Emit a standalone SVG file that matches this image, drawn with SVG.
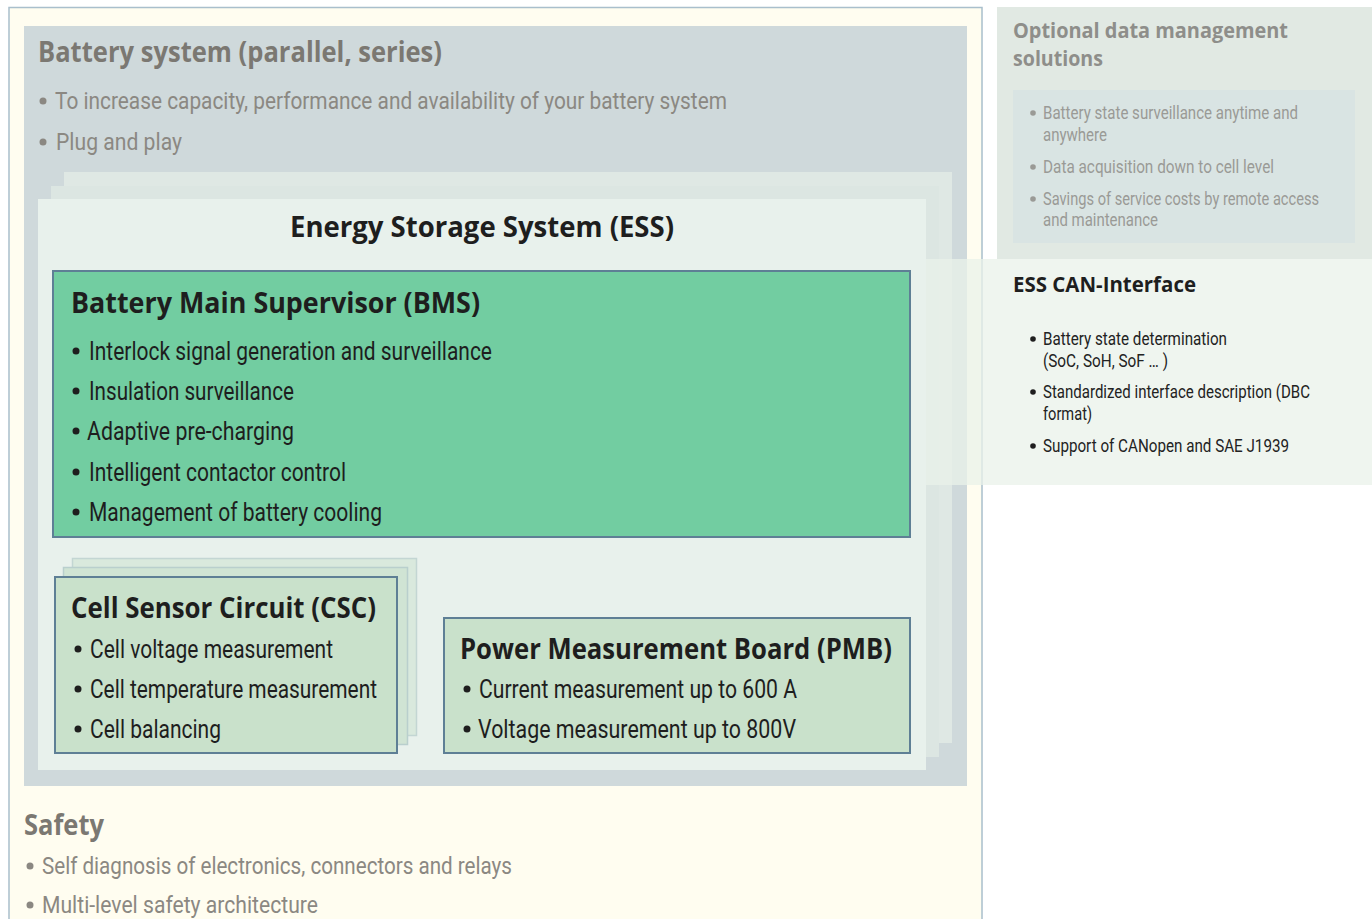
<svg xmlns="http://www.w3.org/2000/svg" width="1372" height="919" viewBox="0 0 1372 919">
<style>
.t-grey-h{font-family:"Open Sans","Noto Sans",sans-serif;font-weight:bold;font-size:29px;fill:#7b7872}
.t-grey{font-family:Roboto,"Liberation Sans",sans-serif;font-size:24px;fill:#8b8882}
.t-dark-h{font-family:"Open Sans","Noto Sans",sans-serif;font-weight:bold;font-size:29px;fill:#1e1e1e}
.t-dark{font-family:Roboto,"Liberation Sans",sans-serif;font-size:25px;fill:#1e1e1e}
.r-grey-h{font-family:"Open Sans","Noto Sans",sans-serif;font-weight:bold;font-size:22px;fill:#8e8e8a}
.r-grey{font-family:Roboto,"Liberation Sans",sans-serif;font-size:17.5px;fill:#9a9a96}
.r-dark-h{font-family:"Open Sans","Noto Sans",sans-serif;font-weight:bold;font-size:21px;fill:#1e1e1e}
.r-dark{font-family:Roboto,"Liberation Sans",sans-serif;font-size:17.5px;fill:#222}
.dot-grey{fill:#8b8882}
.dot-dark{fill:#1e1e1e}
.dot-rgrey{fill:#9a9a96}
.box{stroke:#5e7f95;stroke-width:2}
</style>
<rect x="0" y="0" width="1372" height="919" fill="#ffffff"/>

<!-- outer yellow panel -->
<g id="outer-panel">
<rect x="9" y="7.5" width="973" height="930" fill="#fffdf0" stroke="#a9bfcc" stroke-width="1.5"/>
</g>

<!-- battery system -->
<g id="battery-system">
<rect x="24" y="26" width="943" height="760" fill="#cfd9db"/>
<text class="t-grey-h" x="38" y="62" textLength="404" lengthAdjust="spacingAndGlyphs">Battery system (parallel, series)</text>
<circle class="dot-grey" cx="43" cy="101" r="3.5"/>
<text class="t-grey" x="55" y="109" textLength="672" lengthAdjust="spacingAndGlyphs">To increase capacity, performance and availability of your battery system</text>
<circle class="dot-grey" cx="43" cy="142" r="3.5"/>
<text class="t-grey" x="56" y="150" textLength="126" lengthAdjust="spacingAndGlyphs">Plug and play</text>
</g>

<!-- ESS stack -->
<g id="ess">
<rect x="64" y="172" width="888" height="571" fill="#dfe8e4"/>
<rect x="51" y="186" width="888" height="571" fill="#dce6e2"/>
<rect x="38" y="199" width="888" height="571" fill="#e8f1ec"/>
<text class="t-dark-h" x="290" y="237" textLength="384" lengthAdjust="spacingAndGlyphs">Energy Storage System (ESS)</text>
</g>

<!-- BMS -->
<g id="bms">
<rect class="box" x="53" y="271" width="857" height="266" fill="#72cda1"/>
<text class="t-dark-h" x="71" y="313" textLength="409" lengthAdjust="spacingAndGlyphs">Battery Main Supervisor (BMS)</text>
<circle class="dot-dark" cx="76" cy="351" r="3.5"/>
<text class="t-dark" x="89" y="360" textLength="403" lengthAdjust="spacingAndGlyphs">Interlock signal generation and surveillance</text>
<circle class="dot-dark" cx="76" cy="391" r="3.5"/>
<text class="t-dark" x="89" y="400" textLength="205" lengthAdjust="spacingAndGlyphs">Insulation surveillance</text>
<circle class="dot-dark" cx="76" cy="431" r="3.5"/>
<text class="t-dark" x="87" y="440" textLength="207" lengthAdjust="spacingAndGlyphs">Adaptive pre-charging</text>
<circle class="dot-dark" cx="76" cy="472" r="3.5"/>
<text class="t-dark" x="89" y="481" textLength="257" lengthAdjust="spacingAndGlyphs">Intelligent contactor control</text>
<circle class="dot-dark" cx="76" cy="512" r="3.5"/>
<text class="t-dark" x="89" y="521" textLength="293" lengthAdjust="spacingAndGlyphs">Management of battery cooling</text>
</g>

<!-- CSC stack -->
<g id="csc">
<rect x="72.5" y="558.5" width="344" height="177" fill="#d9e9dd" stroke="#c3d6d3" stroke-width="1.5"/>
<rect x="63.5" y="567.5" width="344" height="177" fill="#d0e4d4" stroke="#b9cfcd" stroke-width="1.5"/>
<rect class="box" x="55" y="577" width="342" height="176" fill="#c9e1cb"/>
<text class="t-dark-h" x="71" y="618" textLength="305" lengthAdjust="spacingAndGlyphs">Cell Sensor Circuit (CSC)</text>
<circle class="dot-dark" cx="78" cy="649" r="3.5"/>
<text class="t-dark" x="90" y="658" textLength="243" lengthAdjust="spacingAndGlyphs">Cell voltage measurement</text>
<circle class="dot-dark" cx="78" cy="689" r="3.5"/>
<text class="t-dark" x="90" y="698" textLength="287" lengthAdjust="spacingAndGlyphs">Cell temperature measurement</text>
<circle class="dot-dark" cx="78" cy="729" r="3.5"/>
<text class="t-dark" x="90" y="738" textLength="131" lengthAdjust="spacingAndGlyphs">Cell balancing</text>
</g>

<!-- PMB -->
<g id="pmb">
<rect class="box" x="444" y="618" width="466" height="135" fill="#c9e1cb"/>
<text class="t-dark-h" x="460" y="659" textLength="432" lengthAdjust="spacingAndGlyphs">Power Measurement Board (PMB)</text>
<circle class="dot-dark" cx="467" cy="689" r="3.5"/>
<text class="t-dark" x="479" y="698" textLength="318" lengthAdjust="spacingAndGlyphs">Current measurement up to 600 A</text>
<circle class="dot-dark" cx="467" cy="729" r="3.5"/>
<text class="t-dark" x="478" y="738" textLength="318" lengthAdjust="spacingAndGlyphs">Voltage measurement up to 800V</text>
</g>

<!-- Safety -->
<g id="safety">
<text class="t-grey-h" x="24" y="835" textLength="80" lengthAdjust="spacingAndGlyphs">Safety</text>
<circle class="dot-grey" cx="30" cy="866" r="3.5"/>
<text class="t-grey" x="42" y="874" textLength="470" lengthAdjust="spacingAndGlyphs">Self diagnosis of electronics, connectors and relays</text>
<circle class="dot-grey" cx="30" cy="905" r="3.5"/>
<text class="t-grey" x="42" y="913" textLength="276" lengthAdjust="spacingAndGlyphs">Multi-level safety architecture</text>
</g>

<!-- Optional data management -->
<g id="optional-data">
<rect x="997" y="7" width="375" height="252" fill="#e1e9e3"/>
<rect x="1013" y="90" width="342" height="153" fill="#d9e4e3"/>
<text class="r-grey-h" x="1013" y="38" textLength="275" lengthAdjust="spacingAndGlyphs">Optional data management</text>
<text class="r-grey-h" x="1013" y="66" textLength="90" lengthAdjust="spacingAndGlyphs">solutions</text>
<circle class="dot-rgrey" cx="1033" cy="113" r="2.8"/>
<text class="r-grey" x="1043" y="119" textLength="255" lengthAdjust="spacingAndGlyphs">Battery state surveillance anytime and</text>
<text class="r-grey" x="1043" y="141" textLength="64" lengthAdjust="spacingAndGlyphs">anywhere</text>
<circle class="dot-rgrey" cx="1033" cy="167" r="2.8"/>
<text class="r-grey" x="1043" y="173" textLength="231" lengthAdjust="spacingAndGlyphs">Data acquisition down to cell level</text>
<circle class="dot-rgrey" cx="1033" cy="199" r="2.8"/>
<text class="r-grey" x="1043" y="205" textLength="276" lengthAdjust="spacingAndGlyphs">Savings of service costs by remote access</text>
<text class="r-grey" x="1043" y="226" textLength="115" lengthAdjust="spacingAndGlyphs">and maintenance</text>
</g>

<!-- ESS CAN-Interface -->
<g id="can-interface">
<rect x="926" y="259" width="446" height="226" fill="#e9f2ea" fill-opacity="0.75"/>
<text class="r-dark-h" x="1013" y="292" textLength="183" lengthAdjust="spacingAndGlyphs">ESS CAN-Interface</text>
<circle class="dot-dark" cx="1033" cy="339" r="2.8"/>
<text class="r-dark" x="1043" y="345" textLength="184" lengthAdjust="spacingAndGlyphs">Battery state determination</text>
<text class="r-dark" x="1043" y="367" textLength="125" lengthAdjust="spacingAndGlyphs">(SoC, SoH, SoF … )</text>
<circle class="dot-dark" cx="1033" cy="392" r="2.8"/>
<text class="r-dark" x="1043" y="398" textLength="267" lengthAdjust="spacingAndGlyphs">Standardized interface description (DBC</text>
<text class="r-dark" x="1043" y="420" textLength="49" lengthAdjust="spacingAndGlyphs">format)</text>
<circle class="dot-dark" cx="1033" cy="446" r="2.8"/>
<text class="r-dark" x="1043" y="452" textLength="246" lengthAdjust="spacingAndGlyphs">Support of CANopen and SAE J1939</text>
</g>

<g id="connectors"/>
</svg>
